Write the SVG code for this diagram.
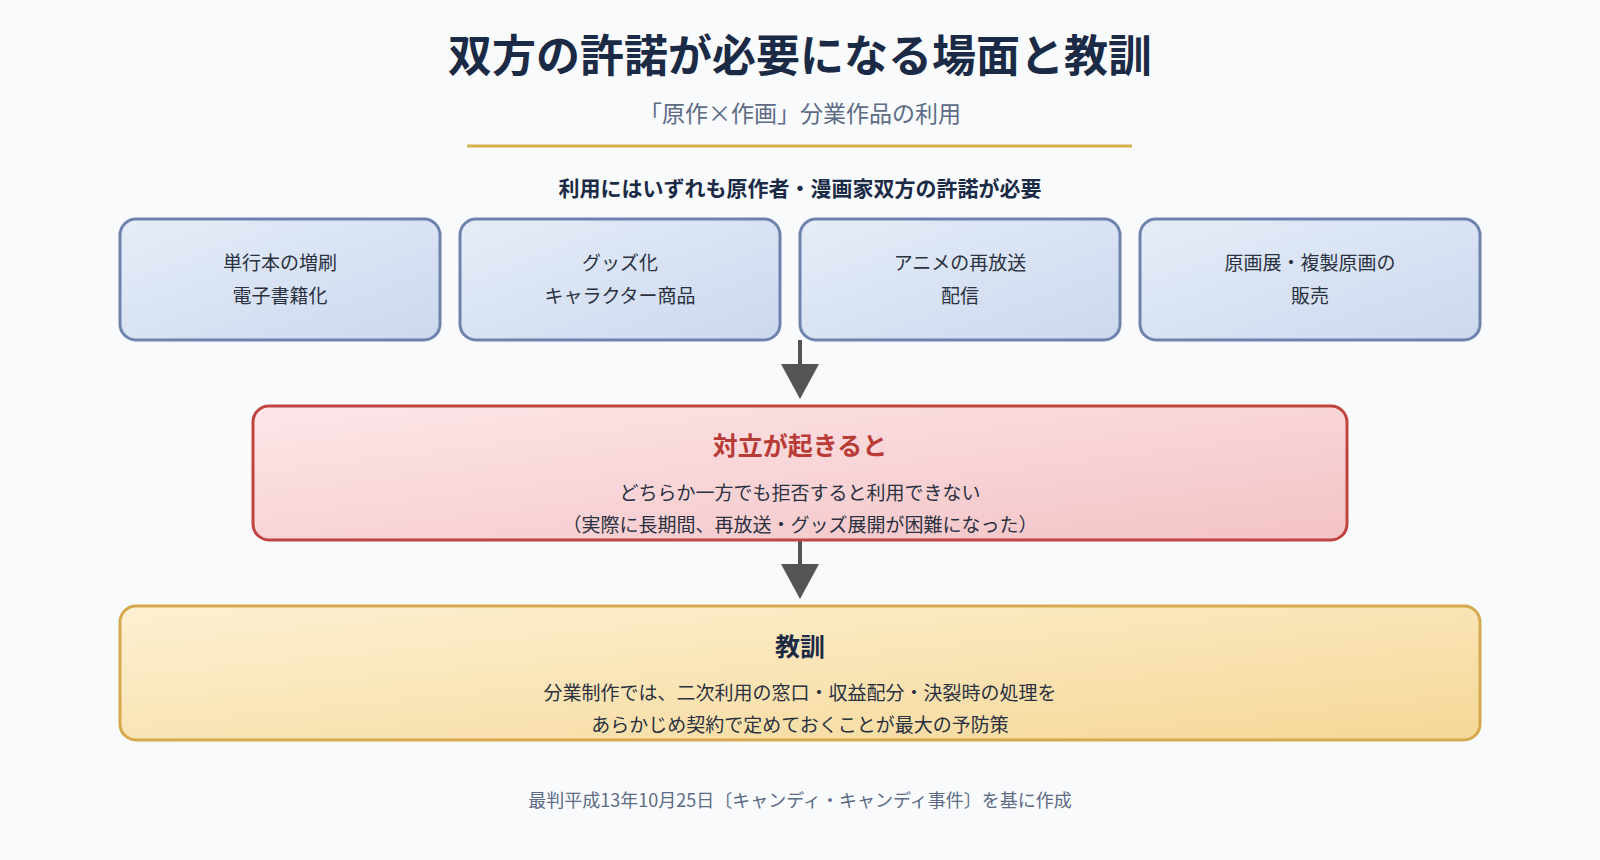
<svg xmlns="http://www.w3.org/2000/svg" width="1600" height="860" viewBox="0 0 1600 860">
<defs>
<linearGradient id="gb" x1="0" y1="0" x2="1" y2="1"><stop offset="0" stop-color="#e6edf8"/><stop offset="1" stop-color="#cbd8ee"/></linearGradient>
<linearGradient id="gr" x1="0" y1="0" x2="1" y2="1"><stop offset="0" stop-color="#fde6e8"/><stop offset="1" stop-color="#f3c3c6"/></linearGradient>
<linearGradient id="gy" x1="0" y1="0" x2="1" y2="1"><stop offset="0" stop-color="#fdf0d2"/><stop offset="1" stop-color="#f5d898"/></linearGradient>
<marker id="ah" markerWidth="10" markerHeight="10" refX="5" refY="5" orient="auto" markerUnits="userSpaceOnUse" viewBox="0 0 10 10"><path d="M0,0 L10,5 L0,10 z" fill="#555"/></marker>
</defs>
<style>
text{font-family:"Noto Sans CJK JP","Noto Sans",sans-serif;text-anchor:middle}
.b{fill:url(#gb);stroke:#6e82ad;stroke-width:3}
.t{font-size:19px;fill:#2a3140}
.ar{stroke:#555;stroke-width:4;fill:none}
</style>
<rect width="1600" height="860" fill="#f8fafc"/>
<text x="800" y="72" font-size="44" font-weight="700" fill="#1b2a45">双方の許諾が必要になる場面と教訓</text>
<text x="800" y="122" font-size="23" fill="#5d6b84">「原作×作画」分業作品の利用</text>
<line x1="467" y1="146" x2="1132" y2="146" stroke="#d6b24f" stroke-width="3"/>
<text x="800" y="196" font-size="21" font-weight="700" fill="#1b2a45">利用にはいずれも原作者・漫画家双方の許諾が必要</text>
<g id="n1"><rect class="b" x="120" y="219" width="320" height="121" rx="16"/><text class="t" x="280" y="270">単行本の増刷</text><text class="t" x="280" y="303">電子書籍化</text></g>
<g id="n2"><rect class="b" x="460" y="219" width="320" height="121" rx="16"/><text class="t" x="620" y="270">グッズ化</text><text class="t" x="620" y="303">キャラクター商品</text></g>
<g id="n3"><rect class="b" x="800" y="219" width="320" height="121" rx="16"/><text class="t" x="960" y="270">アニメの再放送</text><text class="t" x="960" y="303">配信</text></g>
<g id="n4"><rect class="b" x="1140" y="219" width="340" height="121" rx="16"/><text class="t" x="1310" y="270">原画展・複製原画の</text><text class="t" x="1310" y="303">販売</text></g>
<g id="connectors">
<line class="ar" x1="800" y1="340" x2="800" y2="366"/><path d="M781,364 L819,364 L800,399 z" fill="#555"/>
<line class="ar" x1="800" y1="540" x2="800" y2="566"/><path d="M781,564 L819,564 L800,599 z" fill="#555"/>
</g>
<g id="conflict"><rect x="253" y="406" width="1094" height="134" rx="16" fill="url(#gr)" stroke="#c0443f" stroke-width="3"/>
<text x="800" y="455" font-size="25" font-weight="700" fill="#b83b36">対立が起きると</text>
<text class="t" x="800" y="500">どちらか一方でも拒否すると利用できない</text>
<text class="t" x="800" y="532">（実際に長期間、再放送・グッズ展開が困難になった）</text></g>
<g id="lesson"><rect x="120" y="606" width="1360" height="134" rx="16" fill="url(#gy)" stroke="#d5a94d" stroke-width="3"/>
<text x="800" y="656" font-size="25" font-weight="700" fill="#1b2a45">教訓</text>
<text class="t" x="800" y="700">分業制作では、二次利用の窓口・収益配分・決裂時の処理を</text>
<text class="t" x="800" y="732">あらかじめ契約で定めておくことが最大の予防策</text></g>
<text x="800" y="807" font-size="18" fill="#5d6b84">最判平成13年10月25日〔キャンディ・キャンディ事件〕を基に作成</text>
</svg>
